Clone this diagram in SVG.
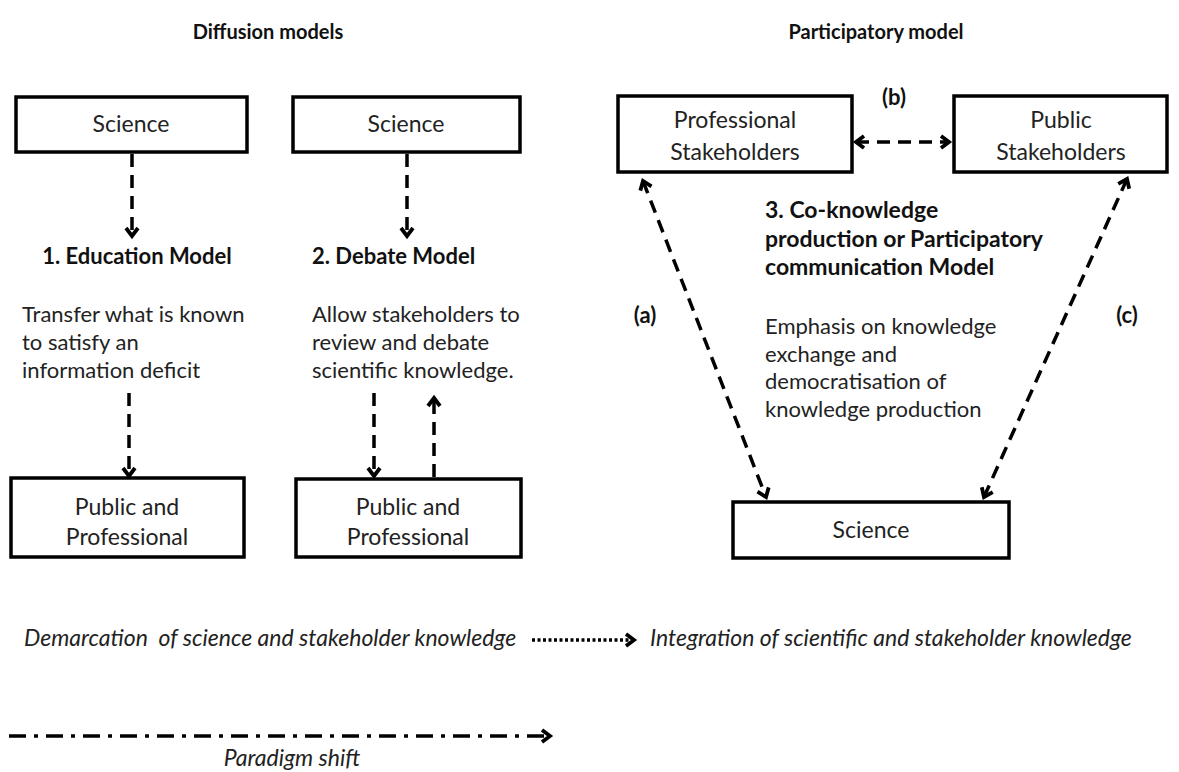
<svg xmlns="http://www.w3.org/2000/svg" width="1179" height="772" viewBox="0 0 1179 772">
<defs>
<style>
.bg{fill:#fff}
.box{fill:#fff;stroke:#000;stroke-width:3.5}
.t{font-family:Lato,"Liberation Sans",sans-serif;font-size:22px;fill:#222}
.bx{font-family:Lato,"Liberation Sans",sans-serif;font-size:23px;fill:#222}
.h{font-family:Lato,"Liberation Sans",sans-serif;font-size:22px;font-weight:bold;fill:#111}
.h3{font-family:Lato,"Liberation Sans",sans-serif;font-size:23px;font-weight:bold;fill:#111}
.ttl{font-family:Lato,"Liberation Sans",sans-serif;font-size:20px;font-weight:bold;fill:#111}
.it{font-family:Lato,"Liberation Sans",sans-serif;font-size:23px;font-style:italic;fill:#222}
.dash{fill:none;stroke:#000;stroke-width:3.5;stroke-dasharray:13 8}
.dot{fill:none;stroke:#000;stroke-width:3.5;stroke-dasharray:3 2.5}
.dd{fill:none;stroke:#000;stroke-width:3.5;stroke-dasharray:17 8 4 8}
</style>
<marker id="ah" markerUnits="userSpaceOnUse" viewBox="-2 -2 14 16" markerWidth="14" markerHeight="16" refX="9" refY="6" orient="auto-start-reverse" overflow="visible">
<path d="M1,0 L9,6 L1,12" fill="none" stroke="#000" stroke-width="3.8"/>
</marker>
</defs>
<rect class="bg" x="0" y="0" width="1179" height="772"/>

<text class="ttl" x="268" y="39" text-anchor="middle">Diffusion models</text>
<text class="ttl" x="876" y="39" text-anchor="middle">Participatory model</text>

<g id="connectors">
<line class="dash" x1="132" y1="154" x2="132" y2="236" marker-end="url(#ah)"/>
<line class="dash" x1="407" y1="154" x2="407" y2="236" marker-end="url(#ah)"/>
<line class="dash" x1="129" y1="393" x2="129" y2="476" marker-end="url(#ah)"/>
<line class="dash" x1="374" y1="393" x2="374" y2="476" marker-end="url(#ah)"/>
<line class="dash" x1="434" y1="477" x2="434" y2="398" marker-end="url(#ah)"/>
<line class="dash" x1="856" y1="142" x2="949" y2="142" marker-start="url(#ah)" marker-end="url(#ah)"/>
<line class="dash" x1="643" y1="181" x2="766" y2="497" marker-start="url(#ah)" marker-end="url(#ah)"/>
<line class="dash" x1="1127" y1="179" x2="984" y2="497" marker-start="url(#ah)" marker-end="url(#ah)"/>
<line class="dot" x1="532" y1="640" x2="634" y2="640" marker-end="url(#ah)"/>
<line class="dd" x1="9" y1="736" x2="550" y2="736" marker-end="url(#ah)"/>
</g>

<g id="science1">
<rect class="box" x="16" y="97" width="231" height="55"/>
<text class="bx" x="131" y="132" text-anchor="middle">Science</text>
</g>
<g id="science2">
<rect class="box" x="293" y="97" width="227" height="55"/>
<text class="bx" x="406" y="132" text-anchor="middle">Science</text>
</g>

<g id="education">
<text class="h" x="137" y="264" text-anchor="middle">1. Education Model</text>
<text class="t" x="22" y="322">Transfer what is known</text>
<text class="t" x="22" y="350">to satisfy an</text>
<text class="t" x="22" y="378">information deficit</text>
</g>
<g id="debate">
<text class="h" x="312" y="264">2. Debate Model</text>
<text class="t" x="312" y="322">Allow stakeholders to</text>
<text class="t" x="312" y="350">review and debate</text>
<text class="t" x="312" y="378">scientific knowledge.</text>
</g>

<g id="public1">
<rect class="box" x="11" y="478" width="233" height="79"/>
<text class="bx" x="127" y="515" text-anchor="middle">Public and</text>
<text class="bx" x="127" y="545" text-anchor="middle">Professional</text>
</g>
<g id="public2">
<rect class="box" x="296" y="479" width="225" height="78"/>
<text class="bx" x="408" y="515" text-anchor="middle">Public and</text>
<text class="bx" x="408" y="545" text-anchor="middle">Professional</text>
</g>

<g id="prof-stake">
<rect class="box" x="618" y="96" width="234" height="76"/>
<text class="bx" x="735" y="128" text-anchor="middle">Professional</text>
<text class="bx" x="735" y="160" text-anchor="middle">Stakeholders</text>
</g>
<g id="pub-stake">
<rect class="box" x="954" y="96" width="213" height="76"/>
<text class="bx" x="1061" y="128" text-anchor="middle">Public</text>
<text class="bx" x="1061" y="160" text-anchor="middle">Stakeholders</text>
</g>

<g id="labels">
<text class="h" x="894" y="105" text-anchor="middle">(b)</text>
<text class="h" x="645" y="323" text-anchor="middle">(a)</text>
<text class="h" x="1127" y="323" text-anchor="middle">(c)</text>
</g>

<g id="coknowledge">
<text class="h3" x="765" y="218">3. Co-knowledge</text>
<text class="h3" x="765" y="247">production or Participatory</text>
<text class="h3" x="765" y="275">communication Model</text>
<text class="t" x="765" y="334">Emphasis on knowledge</text>
<text class="t" x="765" y="362">exchange and</text>
<text class="t" x="765" y="389">democratisation of</text>
<text class="t" x="765" y="417">knowledge production</text>
</g>

<g id="science3">
<rect class="box" x="733" y="502" width="276" height="56"/>
<text class="bx" x="871" y="538" text-anchor="middle">Science</text>
</g>

<g id="legend">
<text class="it" x="24" y="646">Demarcation&#160; of science and stakeholder knowledge</text>
<text class="it" x="650" y="646">Integration of scientific and stakeholder knowledge</text>
<text class="it" x="292" y="766" text-anchor="middle">Paradigm shift</text>
</g>
</svg>
